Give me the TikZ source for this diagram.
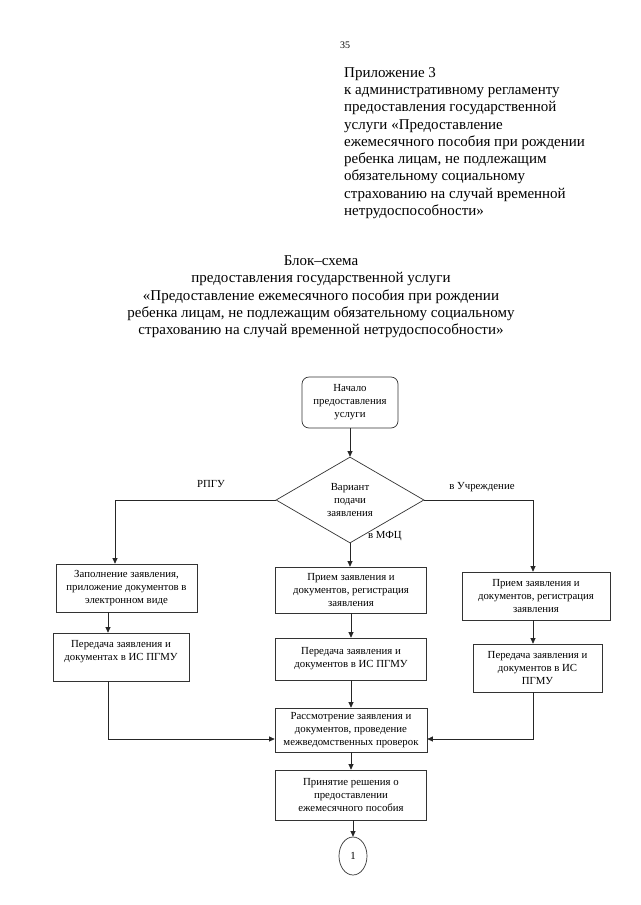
\documentclass[tikz,border=0pt]{standalone}
\usepackage{fontspec}
\setmainfont{Liberation Serif}
\usetikzlibrary{arrows.meta,shapes.geometric}
\newcommand\boxfnt{\fontsize{10.8}{13}\selectfont}
\newcommand\headfnt{\fontsize{15}{17.3}\selectfont}
\tikzset{
  box/.style={draw=black!80, line width=0.7pt, align=center, font=\boxfnt, inner sep=1pt},
  conn/.style={draw=black!85, line width=0.7pt},
  arr/.style={conn, -{Triangle[length=5.5pt,width=5pt]}},
  lbl/.style={font=\boxfnt, inner sep=0pt},
}
\begin{document}
\begin{tikzpicture}[x=1pt,y=-1pt]
\useasboundingbox[fill=white] (0,0) rectangle (640,905);

% page number and header
\node[font=\fontsize{10}{12}\selectfont, inner sep=0pt] (pg) at (345,45) {35};
\node[font=\headfnt, align=left, anchor=north west, inner sep=0pt] (hdr) at (344,67)
 {Приложение 3\\
  к административному регламенту\\
  предоставления государственной\\
  услуги «Предоставление\\
  ежемесячного пособия при рождении\\
  ребенка лицам, не подлежащим\\
  обязательному социальному\\
  страхованию на случай временной\\
  нетрудоспособности»};

\node[font=\headfnt, align=center, inner sep=0pt] (ttl) at (321,297)
 {Блок–схема\\
  предоставления государственной услуги\\
  «Предоставление ежемесячного пособия при рождении\\
  ребенка лицам, не подлежащим обязательному социальному\\
  страхованию на случай временной нетрудоспособности»};

% flowchart nodes
\node[box, rounded corners=7pt, minimum width=96pt, minimum height=51pt] (start) at (350,402.5)
 {\raisebox{-2pt}{\parbox{90pt}{\centering Начало\\предоставления\\услуги}}};
\node[box, diamond, minimum width=148pt, minimum height=86pt, inner sep=0pt] (dia) at (350,500)
 {Вариант\\подачи\\заявления};

\node[box, minimum width=141pt, minimum height=48pt] (L1) at (126.5,588)
 {Заполнение заявления,\\приложение документов в\\электронном виде};
\node[box, minimum width=136pt, minimum height=48pt] (L2) at (121,657)
 {Передача заявления и\\документах в ИС ПГМУ\\\mbox{}};

\node[box, minimum width=151pt, minimum height=46pt] (M1) at (351,590)
 {Прием заявления и\\документов, регистрация\\заявления};
\node[box, minimum width=151pt, minimum height=42pt] (M2) at (351,659)
 {Передача заявления и\\документов в ИС ПГМУ};

\node[box, minimum width=148pt, minimum height=48pt] (R1) at (536,596)
 {Прием заявления и\\документов, регистрация\\заявления};
\node[box, minimum width=129pt, minimum height=48pt] (R2) at (537.5,668)
 {Передача заявления и\\документов в ИС\\ПГМУ};

\node[box, minimum width=152pt, minimum height=44pt] (M3) at (351,730)
 {Рассмотрение заявления и\\документов, проведение\\межведомственных проверок};
\node[box, minimum width=151pt, minimum height=50pt] (M4) at (351,795)
 {Принятие решения о\\предоставлении\\ежемесячного пособия};
\node[box, ellipse, minimum width=28pt, minimum height=38pt, inner sep=0pt] (circ) at (353,856) {1};

% labels
\node[lbl] (lrpgu) at (211,484) {РПГУ};
\node[lbl] (luch) at (482,487) {в Учреждение};
\node[lbl] (lmfc) at (385,536) {в МФЦ};

% helper coordinates
\coordinate (lx) at (115,0);
\coordinate (lx2) at (108,0);
\coordinate (rx) at (533,0);
\coordinate (jy) at (0,739);

% connectors
\draw[arr] (start.south) -- (dia.north);
\draw[arr] (dia.west) -| (L1.north -| lx);
\draw[arr] (dia.east) -| (R1.north -| rx);
\draw[arr] (dia.south) -- (dia.south |- M1.north);

\draw[arr] (L1.south -| lx2) -- (L2.north -| lx2);
\draw[arr] (M1.south) -- (M2.north);
\draw[arr] (R1.south -| rx) -- (R2.north -| rx);

\draw[arr] (M2.south) -- (M3.north);
\draw[arr] (L2.south -| lx2) |- (M3.west |- jy);
\draw[arr] (R2.south -| rx) |- (M3.east |- jy);

\draw[arr] (M3.south) -- (M4.north);
\draw[arr] (M4.south -| circ.north) -- (circ.north);
\end{tikzpicture}
\end{document}
